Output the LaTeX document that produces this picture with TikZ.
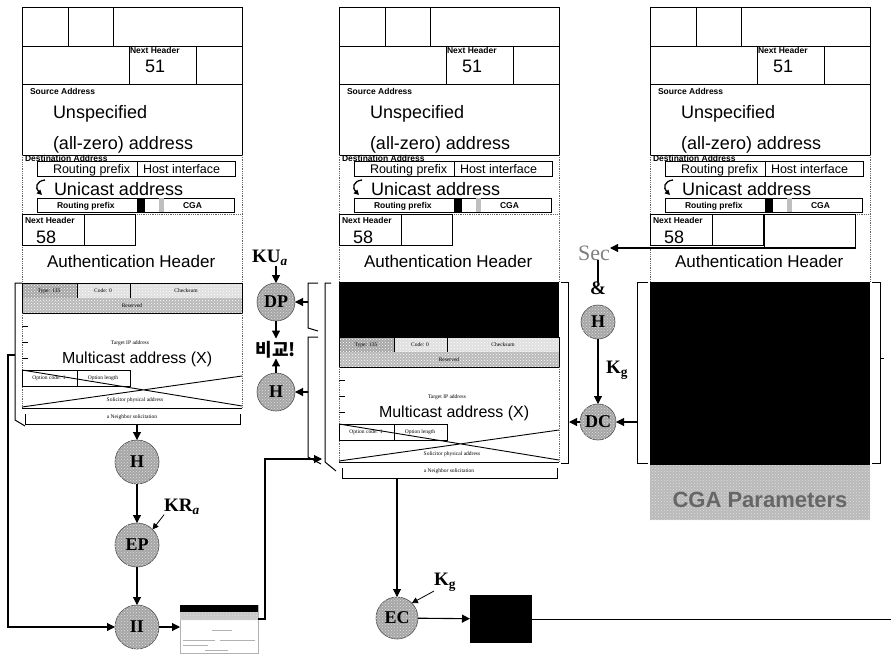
\documentclass[tikz,border=0pt]{standalone}
\usepackage{fontspec}
\setmainfont{Liberation Serif}
\newfontfamily\sansf{Liberation Sans}
\newfontfamily\krf{Noto Sans CJK KR}
\usetikzlibrary{arrows.meta,patterns}

\tikzset{
 every node/.style={inner sep=0pt,outer sep=0pt},
 arr/.style={-{Triangle[length=8pt,width=8pt]},line width=1.1pt},
 sarr/.style={-{Triangle[length=6pt,width=6pt]},line width=0.8pt},
 ln/.style={line width=1.1pt},
 cel/.style={draw=black,line width=0.9pt},
 dotl/.style={draw=black!60,densely dotted,line width=0.8pt},
 brk/.style={draw=black,line width=1pt},
 hatch/.style={postaction={pattern=crosshatch dots,pattern color=white!75!gray}},
 circ/.style={circle,draw=black!70,line width=0.6pt,fill=gray!70,hatch,font=\bfseries\fontsize{18}{18}\selectfont},
 bigt/.style={font=\sansf\fontsize{18}{18}\selectfont},
 numt/.style={font=\sansf\fontsize{18}{18}\selectfont},
 aht/.style={font=\sansf\fontsize{17}{17}\selectfont},
 mct/.style={font=\sansf\fontsize{16}{16}\selectfont},
 boxt/.style={font=\sansf\fontsize{12.5}{12.5}\selectfont},
 labt/.style={font=\sansf\bfseries\fontsize{8.5}{8.5}\selectfont},
 tnyt/.style={font=\fontsize{5.5}{5.5}\selectfont},
 klab/.style={font=\bfseries\fontsize{19}{19}\selectfont},
}

\newcommand{\pkthead}[3]{%
\begin{scope}[xshift=#1pt,name prefix=#2-]
 \draw[cel] (0,7) rectangle (220,46) (46,7)--(46,46) (91,7)--(91,46);
 \draw[cel] (0,46) rectangle (220,84) (107,46)--(107,84) (174,46)--(174,84);
 \node[labt,anchor=base west] (nha) at (108,53) {Next Header};
 \node[numt,anchor=base west] (v51) at (123,72) {51};
 \draw[cel] (0,84) rectangle (220,155);
 \node[labt,anchor=base west] (sa) at (8,94) {Source Address};
 \node[bigt,anchor=base west] (uns) at (31,118) {Unspecified};
 \node[bigt,anchor=base west] (alz) at (31,149) {(all-zero) address};
 \draw[dotl] (0,155) -- (0,#3) (220,155) -- (220,#3) (0,214) -- (220,214);
 \node[labt,anchor=base west] (da) at (3,161) {Destination Address};
 \draw[cel] (15,161) rectangle (213,176) (115,161) -- (115,176);
 \node[boxt,anchor=base west] (rpa) at (31,173.5) {Routing prefix};
 \node[boxt,anchor=base west] (hif) at (121,173.5) {Host interface};
 \draw[line width=1.3pt,-{Triangle[length=5pt,width=5pt]}] (23,180) .. controls (14,181) and (13,188) .. (20,195);
 \node[bigt,anchor=base west] (uni) at (32,195) {Unicast address};
 \draw[cel] (15,198) rectangle (212,212) (115,198) -- (115,212);
 \fill[black] (115,198) rectangle (123,212);
 \fill[gray!50] (137,198) rectangle (142,212);
 \node[labt,anchor=base west] (rpb) at (35,208) {Routing prefix};
 \node[labt,anchor=base west] (cga) at (161,208) {CGA};
 \draw[cel] (0,214) rectangle (62,245) (62,214) rectangle (113,245);
 \node[labt,anchor=base west] (nhb) at (3,223) {Next Header};
 \node[numt,anchor=base west] (v58) at (14,243) {58};
 \node[aht,anchor=base west] (ah) at (25,267) {Authentication Header};
\end{scope}}

\newcommand{\icmp}[3]{%
\begin{scope}[xshift=#1pt,yshift=-#2pt,name prefix=#3-]
 \fill[gray!70] (0,0) rectangle (55,15);
 \fill[gray!25] (55,0) rectangle (220,15);
 \fill[gray!55] (0,15) rectangle (220,30);
 \path[pattern=crosshatch dots,pattern color=white] (0,0) rectangle (220,30);
 \draw[cel,line width=0.6pt] (0,0) rectangle (220,30) (55,0)--(55,15) (108,0)--(108,15);
 \node[tnyt] (ty) at (27,8) {Type: 135};
 \node[tnyt] (co) at (81,8) {Code: 0};
 \node[tnyt] (ck) at (164,8) {Checksum};
 \node[tnyt] (rs) at (110,23) {Reserved};
 \draw[dotl] (0,30) -- (0,125) (220,30) -- (220,125);
 \draw[line width=0.6pt] (0,43)--(6,43) (0,59)--(6,59) (0,75)--(6,75);
 \node[tnyt,anchor=base] (tip) at (108,61) {Target IP address};
 \node[mct,anchor=base west] (mca) at (40,80) {Multicast address (X)};
 \draw[line width=0.6pt] (0,87) rectangle (108,103) (55,87)--(55,103);
 \node[tnyt] (oc) at (27,95) {Option code: 1};
 \node[tnyt] (ol) at (81,95) {Option length};
 \draw[line width=0.9pt] (0,87) -- (220,123) (0,124) -- (220,93);
 \node[tnyt] (spa) at (113,117) {Solicitor physical address};
 \draw[line width=0.9pt] (0,125) -- (220,125);
 \node[tnyt] (ns) at (110,134) {a Neighbor solicitation};
 \draw[brk] (3,131) -- (3,141) -- (218,141) -- (218,131);
 \coordinate (bk) at (110,141);
\end{scope}}

\begin{document}
\begin{tikzpicture}[x=1pt,y=-1pt]
\useasboundingbox (0,0) rectangle (891,653);
\fill[white] (0,0) rectangle (891,653);

% packets
\pkthead{22}{L}{283}
\pkthead{339}{M}{282}
\pkthead{650}{R}{282}
\icmp{22}{283}{L}
\fill[black] (339,282) rectangle (559,337);
\icmp{339}{337}{M}
\fill[black] (650,282) rectangle (870,465);
\node[fill=gray!55,hatch,minimum width=220pt,minimum height=55pt,anchor=north west] (CGA) at (650,465) {};
\node[font=\sansf\bfseries\fontsize{22}{22}\selectfont,text=black!60] (cgat) at (760,500) {CGA Parameters};
\draw[cel] (764,214) rectangle (855,248);
\coordinate (Rb3) at (855,248);

% brackets
\draw[brk] (22,283) -- (15,283) -- (15,420) -- (25,426);
\draw[brk] (318,283) -- (308,283) -- (308,328) -- (318,331);
\draw[brk] (318,337) -- (308,337) -- (308,457) -- (321,464);
\draw[brk] (331,283) -- (325,283) -- (325,462) -- (336,471);
\draw[brk] (561,282) -- (568,282) -- (568,463) -- (561,463);
\draw[brk] (648,282) -- (637,282) -- (637,463) -- (648,463);
\draw[brk] (872,282) -- (880,282) -- (880,463) -- (872,463);
\draw[brk] (880,358) -- (884,358);

% circles
\node[circ,minimum size=44pt] (H1) at (137,462) {H};
\node[circ,minimum size=44pt] (EP) at (137,545) {EP};
\node[circ,minimum size=44pt] (II) at (137,627) {II};
\node[circ,minimum size=38pt] (DP) at (276,302) {DP};
\node[circ,minimum size=38pt] (H2) at (276,392) {H};
\node[circ,minimum size=42pt] (EC) at (397,618) {EC};
\node[circ,minimum size=34pt] (H3) at (598,322) {H};
\node[circ,minimum size=36pt] (DC) at (598,422) {DC};

% labels
\node[klab] (KUa) at (270,258) {KU\textsubscript{\textit{a}}};
\node[klab] (KRa) at (182,507) {KR\textsubscript{\textit{a}}};
\node[klab] (Kg1) at (617,370) {K\textsubscript{g}};
\node[klab] (Kg2) at (445,582) {K\textsubscript{g}};
\node[font=\krf\bfseries\fontsize{18}{18}\selectfont] (cmp) at (276,350) {비교!};
\node[font=\fontsize{22}{22}\selectfont,text=black!50,anchor=east] (Sec) at (610,253) {Sec};
\node[klab] (amp) at (598,288) {\&};

% small packet
\node[draw=gray!60,line width=0.6pt,minimum width=78pt,minimum height=48pt,anchor=north west] (SP) at (180,605) {};
\fill[black] (180,605) rectangle (258,612);
\fill[gray!45,hatch] (180,612) rectangle (258,620);
\draw[gray!60,line width=0.5pt] (212,630) -- (232,630) (183,640) -- (215,640) (220,640) -- (255,640) (183,645) -- (208,645) (205,650) -- (228,650);
\coordinate (spo) at (258,619);
\coordinate (mA) at (322,459);

% black box
\node[fill=black,minimum width=62pt,minimum height=48pt] (BB) at (501,619) {};
\coordinate (endR) at (891,619);

% left-side loop
\coordinate (lb1) at (15,355);
\coordinate (lb0) at (8,355);
\draw[arr] (lb1) -- (lb0) |- (II.west);

% connectors
\draw[arr] (H1 |- L-bk) -- (H1.north);
\draw[arr] (H1) -- (EP);
\draw[arr] (EP) -- (II);
\draw[sarr] (KRa.south west) -- (EP.north east);
\draw[arr] (II) -- (SP.west |- II);
\draw[arr] (spo) -- ++(7,0) |- (mA);

\draw[arr] (DP.north |- KUa.south) -- (DP.north);
\draw[arr,shorten >=3pt] (DP.south) -- (cmp.north);
\draw[arr] (H2.north) -- (cmp.south);
\coordinate (bDP) at (308,302);
\coordinate (bH2) at (308,392);
\draw[arr] (bDP) -- (DP.east);
\draw[arr] (bH2) -- (H2.east);

\draw[arr] (EC |- M-bk) -- (EC.north);
\draw[sarr] (Kg2.south west) -- (EC.north east);
\draw[arr] (EC) -- (BB);
\draw[line width=0.9pt] (BB.east) -- (endR);

\draw[arr] (Rb3) -- (Sec.east |- Rb3);
\draw[ln] (amp.north |- Sec.south) -- (amp.north);
\draw[arr] (H3) -- (DC);
\coordinate (bR) at (637,422);
\coordinate (bM) at (569,422);
\draw[arr] (bR) -- (DC.east);
\draw[arr] (DC.west) -- (bM);
\end{tikzpicture}
\end{document}
